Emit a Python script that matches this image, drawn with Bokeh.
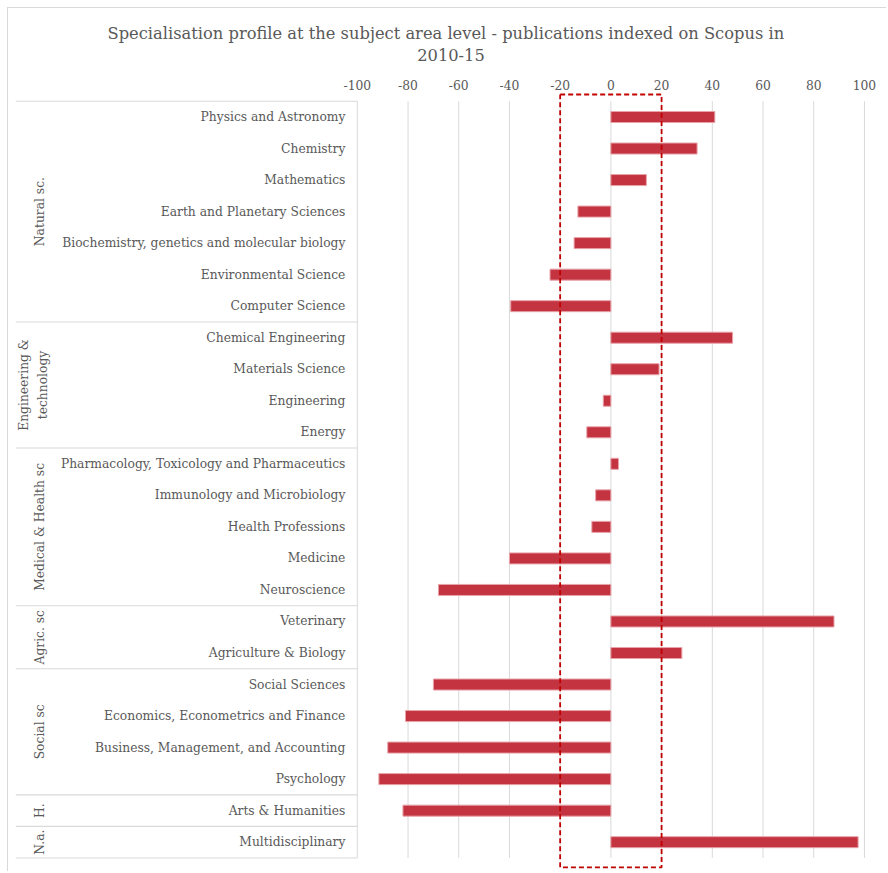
import math
from bokeh.plotting import figure
from bokeh.models import Range1d, FixedTicker, ColumnDataSource, Title
from bokeh.core.properties import value
from bokeh.embed import file_html
from bokeh.resources import INLINE

# ---------------- data ----------------
categories = [
    "Physics and Astronomy", "Chemistry", "Mathematics", "Earth and Planetary Sciences",
    "Biochemistry, genetics and molecular biology", "Environmental Science", "Computer Science",
    "Chemical Engineering", "Materials Science", "Engineering", "Energy",
    "Pharmacology, Toxicology and Pharmaceutics", "Immunology and Microbiology",
    "Health Professions", "Medicine", "Neuroscience",
    "Veterinary", "Agriculture & Biology",
    "Social Sciences", "Economics, Econometrics and Finance",
    "Business, Management, and Accounting", "Psychology",
    "Arts & Humanities",
    "Multidisciplinary",
]
values = [41, 34, 14, -13, -14.5, -24, -39.5,
          48, 19, -3, -9.5,
          3, -6, -7.5, -40, -68,
          88, 28,
          -70, -81, -88, -91.5,
          -82,
          97.5]
group_names = ["Natural sc.", "Engineering &\ntechnology", "Medical & Health sc",
               "Agric. sc", "Social sc", "H.", "N.a."]
group_counts = [7, 4, 5, 2, 4, 1, 1]
x_ticks = [-100, -80, -60, -40, -20, 0, 20, 40, 60, 80, 100]
band_limits = [-20, 20]
title_line1 = "Specialisation profile at the subject area level  -  publications indexed on Scopus in"
title_line2 = "2010-15"

# ---------------- styling ----------------
FONT = "DejaVu Serif"
GREY = "#595959"
GRID = "#D9D9D9"
BAR = "#C43440"
DASH = "#C00000"

n = len(categories)
rows = list(range(n))

x_start, x_end = -234.8, 108.7
y_top, y_bottom = -0.777, 23.93

p = figure(width=886, height=871,
           x_range=Range1d(x_start, x_end), y_range=Range1d(y_bottom, y_top),
           x_axis_location="above", y_axis_location=None,
           toolbar_location=None, output_backend="svg",
           min_border_left=15, min_border_right=0, min_border_top=92, min_border_bottom=0)
p.grid.visible = False
p.outline_line_color = None
p.background_fill_color = None
p.border_fill_color = None
# faint chart-area border (top and left edges)
p.styles = {
    "background": (
        "linear-gradient(#D9D9D9, #D9D9D9) 7px 7px / 879px 1px no-repeat, "
        "linear-gradient(#D9D9D9, #D9D9D9) 7px 7px / 1px 864px no-repeat, white"
    )
}

ax = p.xaxis[0]
ax.ticker = FixedTicker(ticks=x_ticks)
ax.major_label_overrides = {t: str(t) for t in x_ticks}
ax.axis_line_color = None
ax.major_tick_line_color = None
ax.minor_tick_line_color = None
ax.major_tick_out = 0
ax.major_tick_in = 0
ax.minor_tick_out = 0
ax.major_label_text_font = FONT
ax.major_label_text_font_size = "12.3px"
ax.major_label_text_color = GREY
ax.major_label_standoff = 3
# second title line carried by the top axis label (keeps it centred over the chart)
ax.axis_label = title_line2
ax.axis_label_text_font = FONT
ax.axis_label_text_font_size = "16.3px"
ax.axis_label_text_font_style = "normal"
ax.axis_label_text_color = GREY
ax.axis_label_standoff = 16

p.add_layout(Title(text=title_line1, align="center", text_font=FONT, text_font_size="16.3px",
                   text_font_style="normal", text_color=GREY, standoff=6), "above")

# vertical gridlines
p.segment(x0=x_ticks, x1=x_ticks, y0=[-0.5] * len(x_ticks), y1=[n - 0.5] * len(x_ticks),
          line_color=GRID, line_width=1)

# group separators in the label table
bounds = [-0.5]
for c in group_counts:
    bounds.append(bounds[-1] + c)
p.segment(x0=[x_start] * len(bounds), x1=[x_ticks[0]] * len(bounds), y0=bounds, y1=bounds,
          line_color=GRID, line_width=1.1)

# bars
src = ColumnDataSource(dict(y=rows, right=values, left=[0] * n, cat=categories))
p.hbar(y="y", left="left", right="right", height=0.35, source=src,
       fill_color=BAR, line_color="#E8A3A9", line_width=1)

# category labels
p.text(x=[-104.7] * n, y=rows, text=categories, text_align="right", text_baseline="middle",
       text_font=value(FONT), text_font_size="12.3px", text_color=GREY)

# group labels (rotated)
gy = [(bounds[i] + bounds[i + 1]) / 2 for i in range(len(group_names))]
gx = [-227.6 if "\n" in g else -225.0 for g in group_names]
p.text(x=gx, y=gy, text=group_names, angle=math.pi / 2, text_align="center",
       text_baseline="middle", text_font=value(FONT), text_font_size="12.3px",
       text_color=GREY, text_line_height=1.35)

# dashed band rectangle
b0, b1 = band_limits
ytop, ybot = -0.714, 23.80
p.line(x=[b0, b1, b1, b0, b0], y=[ytop, ytop, ybot, ybot, ytop],
       line_color=DASH, line_width=1.8, line_dash="5 3")

open("out.html", "w").write(file_html(p, INLINE))
